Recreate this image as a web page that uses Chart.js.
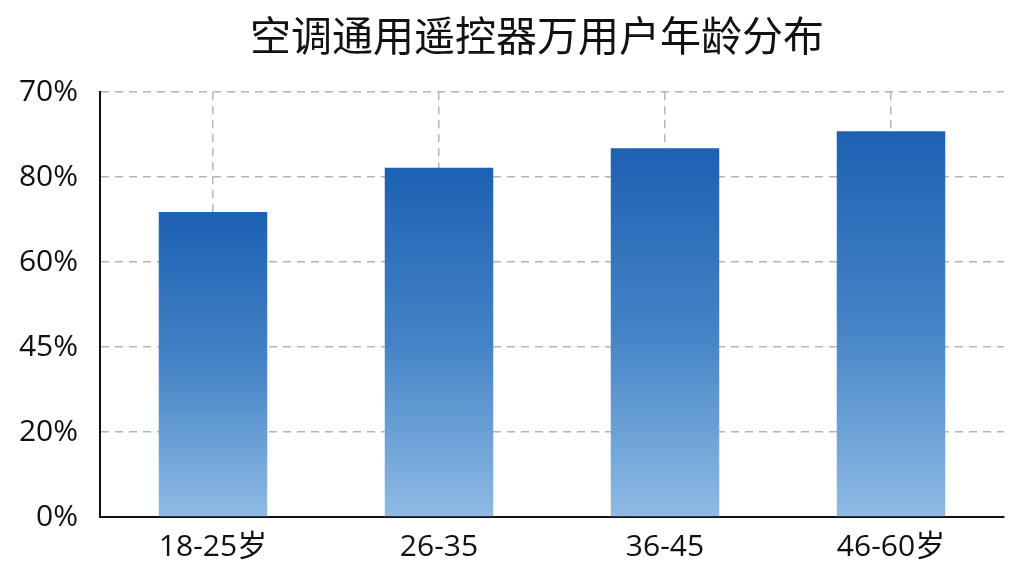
<!DOCTYPE html>
<html>
<head>
<meta charset="utf-8">
<script src="https://cdn.jsdelivr.net/npm/chart.js@4"></script>
<style>
    html, body { margin: 0; padding: 0; background: #ffffff; }
    #box { width: 1024px; height: 576px; }
</style>
</head>
<body>
<div id="box"><canvas id="ageChart"></canvas></div>
<script>
// Возрастные группы
const ageGroups = ["18-25岁", "26-35", "36-45", "46-60岁"];
// Высота столбцов в делениях оси (0..5)
const barValues = [3.59, 4.11, 4.34, 4.54];
// Подписи делений оси Y, как на картинке (снизу вверх)
const yTickLabels = ["0%", "20%", "45%", "60%", "80%", "70%"];

const chartTitle = "空调通用遥控器万用户年龄分布";
const fontFamily = "'Open Sans', 'Noto Sans CJK SC', sans-serif";

// градиент для каждого столбца: сверху тёмный, снизу светлый
function barGradient(context) {
    const chart = context.chart;
    const area = chart.chartArea;
    if (!area) return "#3a78c0";
    const top = chart.scales.y.getPixelForValue(context.raw);
    const g = chart.ctx.createLinearGradient(0, top, 0, area.bottom);
    g.addColorStop(0, "#1c61b3");
    g.addColorStop(0.5, "#4483c6");
    g.addColorStop(1, "#8fbbe5");
    return g;
}

// сдвиг заголовка немного вправо, как в оригинале
const titleShift = {
    id: "titleShift",
    afterLayout(chart) {
        if (chart.titleBlock) {
            chart.titleBlock.left += 70;
        }
    },
};

const ctx = document.getElementById("ageChart").getContext("2d");
new Chart(ctx, {
    type: "bar",
    data: {
        labels: ageGroups,
        datasets: [
            {
                data: barValues,
                backgroundColor: barGradient,
                borderWidth: 0,
                barPercentage: 0.48,
                categoryPercentage: 1,
            },
        ],
    },
    options: {
        responsive: true,
        maintainAspectRatio: false,
        animation: false,
        layout: {
            padding: { left: 0, right: 20, top: 0, bottom: 0 },
        },
        plugins: {
            legend: { display: false },
            tooltip: { enabled: false },
            title: {
                display: true,
                text: chartTitle,
                color: "#111111",
                font: { family: "'Noto Sans CJK SC', sans-serif", size: 41, weight: "normal" },
                padding: { top: 11, bottom: 32 },
            },
        },
        scales: {
            x: {
                offset: true,
                afterFit: (scale) => {
                    scale.height = 59;
                },
                grid: {
                    offset: false,
                    color: "#b5b5b5",
                    lineWidth: 1.5,
                    drawTicks: false,
                },
                border: {
                    display: true,
                    color: "#111111",
                    width: 2,
                    dash: [8, 6],
                },
                ticks: {
                    color: "#111111",
                    padding: 12,
                    font: { family: fontFamily, size: 30 },
                },
            },
            y: {
                min: 0,
                max: 5,
                afterFit: (scale) => {
                    scale.width = 100;
                },
                grid: {
                    color: "#b5b5b5",
                    lineWidth: 1.5,
                    drawTicks: false,
                },
                border: {
                    display: true,
                    color: "#111111",
                    width: 2,
                    dash: [8, 6],
                },
                ticks: {
                    stepSize: 1,
                    color: "#111111",
                    padding: 22,
                    font: { family: fontFamily, size: 30 },
                    callback: (value) => yTickLabels[value],
                },
            },
        },
    },
    plugins: [titleShift],
});
</script>
</body>
</html>
